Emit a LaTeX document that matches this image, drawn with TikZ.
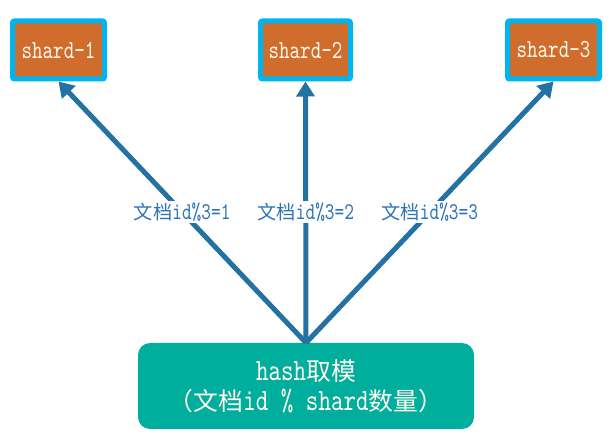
\documentclass[tikz,border=0pt]{standalone}
\usepackage{fontspec}
\newfontfamily\cjk[Scale=0.8]{Noto Sans CJK SC}
\newfontfamily\narrowtt[FakeStretch=0.77]{lmmono10-regular.otf}
\usetikzlibrary{arrows.meta}
\definecolor{shardfill}{HTML}{D06C2C}
\definecolor{shardborder}{HTML}{00B4EF}
\definecolor{hashfill}{HTML}{00AE9D}
\definecolor{arrowcol}{HTML}{2471A3}
\definecolor{labelcol}{HTML}{2E74B5}
\definecolor{boxtext}{HTML}{FFF8EC}
\tikzset{
  shardbox/.style={draw=shardborder, fill=shardfill, line width=5pt, rounded corners=2pt,
    minimum height=58pt, text=boxtext, font=\narrowtt\fontsize{26pt}{28pt}\selectfont, inner sep=0pt},
  hashbox/.style={fill=hashfill, rounded corners=12pt, minimum width=336pt, minimum height=86pt,
    text=boxtext, align=center, font=\narrowtt\fontsize{31pt}{30pt}\selectfont, inner sep=0pt},
  link/.style={draw=arrowcol, line width=5pt, -{Triangle[width=18pt,length=15pt]}},
  lbl/.style={fill=white, text=labelcol, font=\narrowtt\fontsize{24pt}{26pt}\selectfont, inner sep=2pt}
}
\begin{document}
\begin{tikzpicture}[x=1pt,y=-1pt]
\useasboundingbox (0,0) rectangle (616,443);
\node[shardbox, minimum width=92pt] (s1) at (58.5,50) {shard-1};
\node[shardbox, minimum width=90pt] (s2) at (305.5,50) {shard-2};
\node[shardbox, minimum width=92pt] (s3) at (553.5,50) {shard-3};
\node[hashbox] (h) at (306,386) {hash{\cjk 取模}\\{\cjk （文档}id \% shard{\cjk 数量）}};
\draw[link] (h.north) -- node[lbl, pos=0.5] (l1) {{\cjk 文档}id\%3=1} (s1.south);
\draw[link] (h.north) -- node[lbl, pos=0.5] (l2) {{\cjk 文档}id\%3=2} (s2.south);
\draw[link] (h.north) -- node[lbl, pos=0.5] (l3) {{\cjk 文档}id\%3=3} (s3.south);
\end{tikzpicture}
\end{document}
